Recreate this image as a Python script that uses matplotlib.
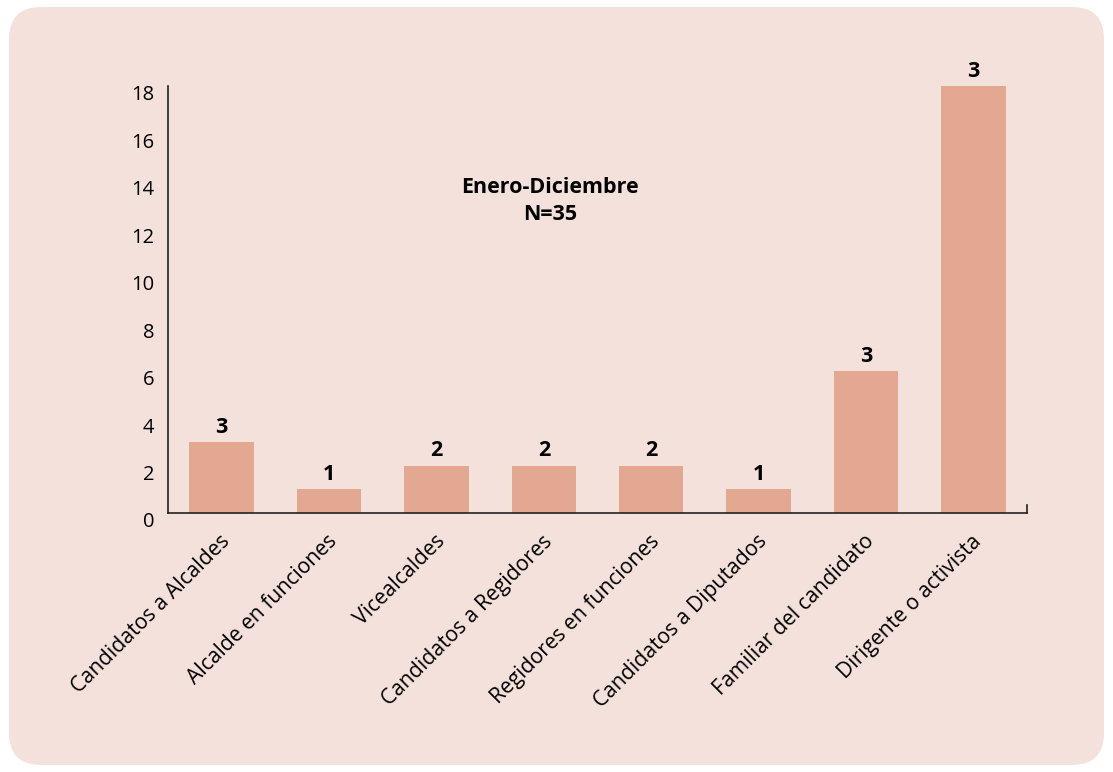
import matplotlib
matplotlib.use("Agg")
import matplotlib.pyplot as plt
from matplotlib.patches import FancyBboxPatch
from matplotlib.transforms import ScaledTranslation

categories = ["Candidatos a Alcaldes", "Alcalde en funciones", "Vicealcaldes",
              "Candidatos a Regidores", "Regidores en funciones",
              "Candidatos a Diputados", "Familiar del candidato",
              "Dirigente o activista"]
values = [3, 1, 2, 2, 2, 1, 6, 18]
bar_labels = ["3", "1", "2", "2", "2", "1", "3", "3"]
yticks = [0, 2, 4, 6, 8, 10, 12, 14, 16, 18]
title_text = "Enero-Diciembre\nN=35"

BG = "#F5E1DB"
BAR = "#E3A891"
FONT = ["Open Sans", "DejaVu Sans"]
plt.rcParams["font.family"] = FONT

fig = plt.figure(figsize=(11.13, 7.72), dpi=100)
fig.patch.set_facecolor("white")
box = FancyBboxPatch((9, 7), 1095, 758, boxstyle="round,pad=0,rounding_size=32",
                     transform=None, facecolor=BG, edgecolor="none", zorder=-10)
fig.patches.append(box)

ax = fig.add_axes([168/1113, 1 - 513/772, 859/1113, 427/772])
ax.set_facecolor("none")
ax.set_zorder(1)
x = list(range(len(categories)))
ax.bar(x, values, width=0.6, color=BAR, zorder=2)
for xi, v, lab in zip(x, values, bar_labels):
    ax.annotate(lab, (xi, v), xytext=(0, 3), textcoords="offset points",
                ha="center", va="bottom", fontsize=15.5, fontweight="bold", color="black")

ax.set_xlim(-0.5, 7.5)
ax.set_ylim(0, 18)
ax.set_yticks(yticks)
ax.set_yticklabels([str(t) for t in yticks], fontsize=14.5)
ax.tick_params(axis="y", length=0, pad=10)
ax.set_xticks(x)
ax.set_xticklabels(categories, rotation=45, ha="right", rotation_mode="anchor", fontsize=15.2)
ax.tick_params(axis="x", length=0, pad=13)
for lab in ax.get_xticklabels():
    lab.set_transform(lab.get_transform() + ScaledTranslation(-1.5/72, 0, fig.dpi_scale_trans))
for lab in ax.get_yticklabels():
    lab.set_transform(lab.get_transform() + ScaledTranslation(0, -5/72, fig.dpi_scale_trans))

ax.spines["top"].set_visible(False)
ax.spines["right"].set_bounds(0, 0.35)
for s in ["left", "bottom", "right"]:
    ax.spines[s].set_linewidth(1.2)
    ax.spines[s].set_color("#222222")

ax.text(0.445, 0.73, title_text, transform=ax.transAxes, ha="center", va="center",
        fontsize=15.5, fontweight="bold", linespacing=1.4)

fig.savefig("out.png", dpi=100, facecolor="white")
